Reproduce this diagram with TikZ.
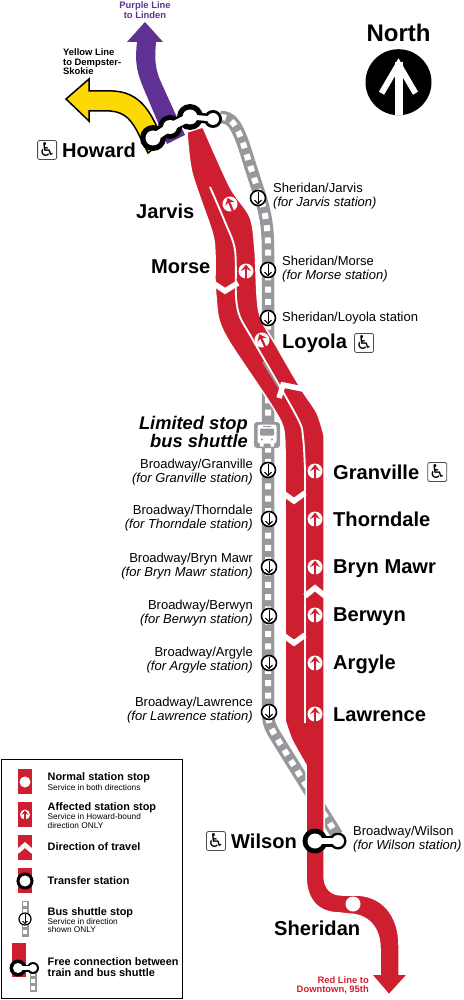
\documentclass[tikz,border=0pt]{standalone}
\usepackage{fontspec}
\setmainfont{Liberation Sans}
\newfontfamily\symfont{DejaVu Sans}
\usetikzlibrary{arrows.meta,positioning,calc}
\definecolor{linered}{HTML}{CE1F31}
\definecolor{linepurple}{HTML}{5F3192}
\definecolor{lineyellow}{HTML}{FCD905}
\definecolor{busgrey}{HTML}{96989B}
\newcommand{\fs}[1]{\fontsize{#1}{#1}\selectfont}

\begin{document}
\begin{tikzpicture}[
    x=1pt, y=-1pt,
    station/.style={
      font=\fs{20.1}\bfseries, inner sep=0pt
    },
    shuttle/.style={
      font=\fontsize{13}{14}\selectfont, inner sep=0pt, align=left, anchor=west
    },
    shuttleL/.style={
      font=\fontsize{13}{14}\selectfont, inner sep=0pt, align=right, anchor=east
    },
    adabox/.style={
      rectangle, rounded corners=2pt, draw=black!70, fill=white, line width=0.8pt,
      minimum size=19pt, inner sep=0pt, font=\symfont\fs{19}
    },
    upstop/.style={
      circle, fill=white, minimum size=15pt, inner sep=0pt
    },
    uparrow/.style={
      -{Stealth[length=6.5pt,width=10pt,inset=2.5pt]}, linered, line width=2.2pt, shorten >=1.2pt
    },
    busstop/.style={
      circle, draw=black, fill=white, line width=1.6pt, minimum size=15pt, inner sep=0pt
    },
    busarrow/.style={
      -{Straight Barb[length=3.5pt,width=7pt]}, black, line width=1pt, shorten >=2pt, shorten <=2pt
    },
    track/.style={
      busgrey, line width=12.5pt
    },
    trackdash/.style={
      white, line width=6pt, dash pattern=on 6pt off 6.3pt
    },
    chevron/.style={
      white, line width=5.5pt, miter limit=10
    },
    ringout/.style={
      circle, fill=black, inner sep=0pt
    },
    ringin/.style={
      circle, fill=white, inner sep=0pt
    },
    legendhead/.style={
      font=\fontsize{10.9}{11}\selectfont\bfseries, inner sep=0pt, anchor=west, align=left
    },
    legendnote/.style={
      font=\fs{8.3}, inner sep=0pt, anchor=west, align=left
    },
    linelabel/.style={
      font=\fs{9.4}\bfseries, inner sep=0pt
    }
  ]
  \useasboundingbox (0,0) rectangle (463,1000);

  % --- Shuttle track, under everything ---
  \draw[track] (220,117) .. controls (232,117) and (236,125) .. (243,143)
    -- (257,187) .. controls (265,210) and (268,225) .. (268,250)
    -- (268,712) .. controls (268,725) and (272,730) .. (278,740) -- (337,835);
  \draw[trackdash] (220,117) .. controls (232,117) and (236,125) .. (243,143)
    -- (257,187) .. controls (265,210) and (268,225) .. (268,250)
    -- (268,712) .. controls (268,725) and (272,730) .. (278,740) -- (337,835);

  % --- Purple and yellow branches ---
  \fill[linepurple] (145,22) -- (163,42) -- (156,42)
    .. controls (155,55) and (154,65) .. (160,80) -- (185,135) -- (167,144) -- (143,87)
    .. controls (136,70) and (135,60) .. (137,42) -- (127,42) -- cycle;
  \draw[fill=lineyellow, line width=1.5pt, black, fill=lineyellow]
    (66,99) -- (89,79) -- (89,91) -- (113,91)
    .. controls (135,92) and (147,105) .. (157,127) -- (165,140) -- (148,153)
    -- (140,137) .. controls (132,120) and (125,112) .. (110,111) -- (89,111) -- (89,121) -- cycle;

  % --- Red line ---
  \fill[linered, draw=white, line width=1.5pt]
    plot[smooth, tension=0.5] coordinates {(187,132) (192,173) (212,232) (215,255) (215,280)
      (216,297) (219,320) (230,343) (270,403) (283,427) (285,450)}
    -- (285,715)
    -- plot[smooth, tension=0.5] coordinates {(285,720) (292,740) (306,765)}
    -- (306,875) .. controls (306,900) and (318,913) .. (340,913)
    -- (348,914) .. controls (368,914) and (380,928) .. (380,948)
    -- (380,974) -- (371,974) -- (389,995) -- (408,974) -- (399,974)
    -- (399,945) .. controls (399,915) and (382,895) .. (355,895)
    -- (342,895) .. controls (331,895) and (324,888) .. (324,875)
    -- (324,440)
    -- plot[smooth, tension=0.5] coordinates {(324,435) (317,413) (302,390) (277,347) (259,312)
      (255,250) (250,217) (230,187) (203,127)}
    -- cycle;
  \draw[white, line width=1.9pt] plot[smooth, tension=0.5] coordinates {(210,187) (225,222) (235,250)
    (236,297) (240,317) (253,340) (297,417) (303,437) (305,470)} -- (305,723);
  \draw[busgrey, line width=1.6pt] (263,362) -- (279,388);

  % --- Chevrons ---
  \draw[chevron] (213,283) -- (225,291) -- (238,283);
  \draw[chevron] (279,398) -- (283,385) -- (303,389);
  \draw[chevron] (283,493) -- (294,501) -- (305,493);
  \draw[chevron] (283,635) -- (294,643) -- (305,635);
  \draw[chevron] (305,596) -- (315,588) -- (325,596);

  % --- Stops on the red line ---
  \foreach \n/\x/\y/\a in {Jarvis/230/204/22, Morse/246/271/0, Loyola/262/340/25,
      Granville/315/471/0, Thorndale/315/519/0, BrynMawr/315/567/0, Berwyn/315/615/0,
      Argyle/315/663/0, Lawrence/315/714/0} {
    \node[upstop, rotate=\a] (stop\n) at (\x,\y) {};
    \draw[uparrow] (stop\n.south) -- (stop\n.north);
  }
  \node[upstop] (stopSheridan) at (353,904) {};

  % --- Shuttle stops ---
  \foreach \n/\x/\y in {Jarvis/258/198, Morse/268/270, Loyola/268/318, Granville/268/470,
      Thorndale/269/519, BrynMawr/269/567, Berwyn/269/616, Argyle/269/663, Lawrence/269/712} {
    \node[busstop] (bus\n) at (\x,\y) {};
    \draw[busarrow] (bus\n.north) -- (bus\n.south);
  }

  % --- Howard transfer ---
  \node[ringout, minimum size=26pt] (howardA) at (153,138) {};
  \node[ringout, minimum size=24pt] (howardB) at (170,127) {};
  \node[ringout, minimum size=26pt] (howardC) at (190,117) {};
  \node[ringout, minimum size=18pt] (howardD) at (213,119) {};
  \draw[line width=10pt] (howardC.center) -- (howardD.center);
  \node[ringin, minimum size=15pt] (howardAi) at (howardA) {};
  \node[ringin, minimum size=14pt] (howardBi) at (howardB) {};
  \node[ringin, minimum size=15pt] (howardCi) at (howardC) {};
  \node[ringin, minimum size=12pt] (howardDi) at (howardD) {};
  \draw[white, line width=8pt] (howardA.center) -- (howardB.center) -- (howardC.center);
  \draw[white, line width=5pt] (howardC.center) -- (howardD.center);

  % --- Wilson transfer ---
  \node[ringout, minimum size=25pt] (wilsonA) at (315,841) {};
  \node[ringout, minimum size=17pt] (wilsonB) at (338,841) {};
  \draw[line width=11pt] (wilsonA.center) -- (wilsonB.center);
  \node[ringin, minimum size=15pt] (wilsonAi) at (wilsonA) {};
  \node[ringin, minimum size=12pt] (wilsonBi) at (wilsonB) {};
  \draw[white, line width=5.5pt] (wilsonA.center) -- (wilsonB.center);

  % --- Bus icon ---
  \node[rectangle, rounded corners=3pt, fill=busgrey, minimum size=26pt, inner sep=0pt] (busicon) at (267,435) {};
  \fill[white, rounded corners=2.5pt] (257.5,424.5) rectangle (276.5,443.5);
  \fill[white] (260,442) rectangle (263.5,446.5) (270.5,442) rectangle (274,446.5);
  \fill[busgrey, rounded corners=1pt] (260,428.5) rectangle (274,435.5);
  \fill[busgrey] (263,426) rectangle (271,427);
  \fill[busgrey] (262,439.5) circle (1.2) (272,439.5) circle (1.2);

  % --- Station names ---
  \node[station, anchor=west] (howard) at (62,150) {Howard};
  \node[adabox, left=5pt of howard] (adaHoward) {\char"267F};
  \node[station, anchor=west] (jarvis) at (136,211) {Jarvis};
  \node[station, anchor=west] (morse) at (151,267) {Morse};
  \node[station, anchor=west] (loyola) at (282,343) {Loyola};
  \node[adabox, right=7pt of loyola] (adaLoyola) {\char"267F};
  \foreach \n/\t/\y in {granville/Granville/472, thorndale/Thorndale/519, brynmawr/Bryn Mawr/569,
      berwyn/Berwyn/617, argyle/Argyle/664, lawrence/Lawrence/715} {
    \node[station, anchor=west] (\n) at (333,\y) {\t};
  }
  \node[adabox, right=8pt of granville] (adaGranville) {\char"267F};
  \node[station, anchor=east] (wilson) at (297,841) {Wilson};
  \node[adabox, left=5pt of wilson] (adaWilson) {\char"267F};
  \node[station, anchor=west] (sheridan) at (274,928) {Sheridan};

  % --- Shuttle stop names ---
  \node[shuttle] (lblJarvis) at (273,196) {Sheridan/Jarvis\\\textit{(for Jarvis station)}};
  \node[shuttle] (lblMorse) at (282,269) {Sheridan/Morse\\\textit{(for Morse station)}};
  \node[shuttle] (lblLoyola) at (282,318) {Sheridan/Loyola station};
  \foreach \n/\t/\y in {Granville/Granville/472, Thorndale/Thorndale/518, BrynMawr/Bryn Mawr/566,
      Berwyn/Berwyn/613, Argyle/Argyle/660, Lawrence/Lawrence/710} {
    \node[shuttleL] (lbl\n) at (253,\y) {Broadway/\t\\\textit{(for \t\ station)}};
  }
  \node[shuttle] (lblWilson) at (353,839) {Broadway/Wilson\\\textit{(for Wilson station)}};
  \node[font=\fs{18.3}\bfseries\itshape, inner sep=0pt, align=right, anchor=east] (limited) at (248,432)
    {Limited stop\\bus shuttle};

  % --- Compass ---
  \node[font=\fs{24}\bfseries, inner sep=0pt] (north) at (398.5,33) {North};
  \node[circle, fill=black, minimum size=66pt, inner sep=0pt, below=7pt of north] (compass) {};
  \draw[white, line width=8pt] (compass.south) -- ($(compass.center)+(0,-20)$);
  \draw[white, line width=6pt, miter limit=10] ($(compass.center)+(-17,11)$)
    -- ($(compass.center)+(0,-18)$) -- ($(compass.center)+(17,11)$);

  % --- Line labels ---
  \node[linelabel, text=linepurple, align=center] (lblPurple) at (145,10) {Purple Line\\to Linden};
  \node[linelabel, align=left, anchor=west] (lblYellow) at (63,62) {Yellow Line\\to Dempster-\\Skokie};
  \node[linelabel, text=linered, align=right, anchor=east] (lblRed) at (369,985.5) {Red Line to\\Downtown, 95th};

  % --- Legend ---
  \node[rectangle, draw=black, fill=white, line width=1.2pt, minimum width=181pt, minimum height=239pt,
    inner sep=0pt, anchor=north west] (legend) at (1,759) {};
  \fill[linered] (18,769) rectangle (32,794);
  \node[circle, fill=white, minimum size=11pt, inner sep=0pt] (keyNormal) at (25,782) {};
  \node[legendhead] (txtNormal) at (47.5,778) {Normal station stop};
  \node[legendnote] (subNormal) at (47.5,788) {Service in both directions};

  \fill[linered] (18,802) rectangle (32,827);
  \node[upstop, minimum size=10pt] (keyAffected) at (25,814.5) {};
  \draw[uparrow, -{Stealth[length=4.5pt,width=7pt,inset=1.5pt]}, line width=1.5pt, shorten >=1pt]
    (keyAffected.south) -- (keyAffected.north);
  \node[legendhead] (txtAffected) at (47.5,808) {Affected station stop};
  \node[legendnote] (subAffected) at (47.5,821) {Service in Howard-bound\\direction ONLY};

  \fill[linered] (18,835) rectangle (32,860);
  \draw[chevron, line width=4.5pt] (17,852) -- (25,845) -- (33,852);
  \node[legendhead] (txtDirection) at (47.5,847) {Direction of travel};

  \fill[linered] (18,868) rectangle (32,893);
  \node[circle, draw=black, fill=white, line width=3pt, minimum size=14pt, inner sep=0pt] (keyTransfer) at (25,881) {};
  \node[legendhead] (txtTransfer) at (47.5,881) {Transfer station};

  \draw[busgrey, line width=7pt] (25,901) -- (25,937);
  \draw[white, line width=3.5pt, dash pattern=on 3.5pt off 3.5pt] (25,902) -- (25,937);
  \node[busstop, line width=1.2pt, minimum size=12pt] (keyBus) at (25,919) {};
  \draw[busarrow, -{Straight Barb[length=2.5pt,width=5pt]}, line width=0.8pt, shorten >=1.5pt, shorten <=1.5pt]
    (keyBus.north) -- (keyBus.south);
  \node[legendhead] (txtBus) at (47.5,913) {Bus shuttle stop};
  \node[legendnote] (subBus) at (47.5,925.5) {Service in direction\\shown ONLY};

  \fill[linered] (12,943) rectangle (26,977);
  \draw[busgrey, line width=7pt] (33,968) -- (33,992);
  \draw[white, line width=3.5pt, dash pattern=on 3.5pt off 3.5pt] (33,972) -- (33,992);
  \node[ringout, minimum size=17pt] (keyFreeA) at (18,968) {};
  \node[ringout, minimum size=12pt] (keyFreeB) at (33,968) {};
  \draw[line width=7pt] (keyFreeA.center) -- (keyFreeB.center);
  \node[ringin, minimum size=10pt] (keyFreeAi) at (keyFreeA) {};
  \node[ringin, minimum size=8pt] (keyFreeBi) at (keyFreeB) {};
  \draw[white, line width=3.5pt] (keyFreeA.center) -- (keyFreeB.center);
  \node[legendhead] (txtFree) at (47.5,967) {Free connection between\\train and bus shuttle};
\end{tikzpicture}
\end{document}
